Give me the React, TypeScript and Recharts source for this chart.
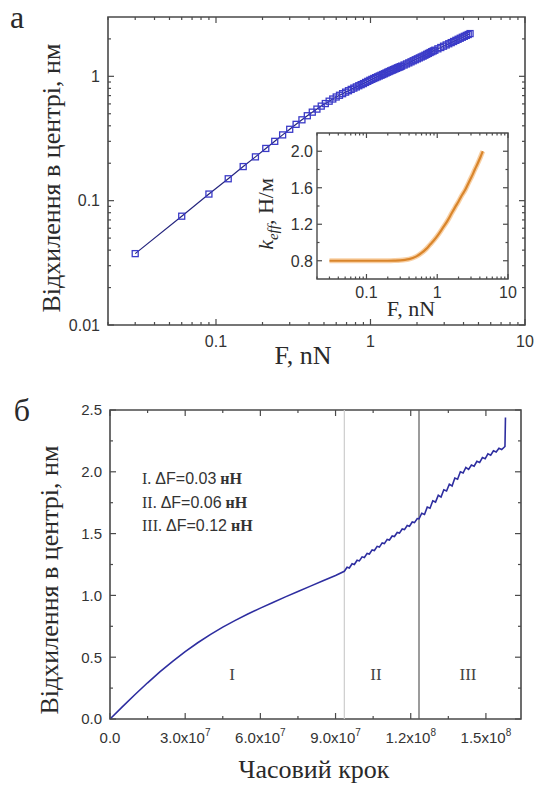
import React from 'react';
import { LineChart, Line, XAxis, YAxis, ReferenceArea, ReferenceLine } from 'recharts';

const SANS = '"Liberation Sans", Arial, sans-serif';
const SERIF = '"Liberation Serif", "Times New Roman", serif';
const AXIS = '#4a4a4a';
const LABEL = '#333333';

// ---------- Panel а: deflection vs force (log-log) ----------
const forceMain = [
  0.03, 0.06, 0.09, 0.12, 0.15, 0.18, 0.21, 0.24, 0.27, 0.30, 0.33, 0.36, 0.39, 0.42, 0.45, 0.48, 0.51, 0.54,
  0.57, 0.60, 0.63, 0.66, 0.69, 0.72, 0.75, 0.78, 0.81, 0.84, 0.87, 0.90, 0.93, 0.96, 0.99, 1.02, 1.05, 1.08,
  1.11, 1.14, 1.17, 1.20, 1.23, 1.26, 1.29, 1.32, 1.35, 1.38, 1.41, 1.44, 1.47, 1.50, 1.53, 1.56, 1.59,
  1.65, 1.71, 1.77, 1.83, 1.89, 1.95, 2.01, 2.07, 2.13, 2.19, 2.25, 2.31, 2.37, 2.43, 2.49, 2.55, 2.61,
  2.73, 2.85, 2.97, 3.09, 3.21, 3.33, 3.45, 3.57, 3.69, 3.81, 3.93, 4.05, 4.17, 4.29, 4.41,
];
const deflectionMain = [
  0.0375, 0.075, 0.113, 0.150, 0.188, 0.225, 0.263, 0.300, 0.338, 0.375, 0.411, 0.447, 0.482, 0.515, 0.545, 0.576, 0.604, 0.631,
  0.657, 0.682, 0.704, 0.725, 0.746, 0.766, 0.785, 0.804, 0.822, 0.840, 0.857, 0.874, 0.893, 0.911, 0.929, 0.945, 0.961, 0.976,
  0.991, 1.006, 1.020, 1.034, 1.049, 1.064, 1.079, 1.093, 1.107, 1.120, 1.133, 1.146, 1.159, 1.172, 1.184, 1.196, 1.208,
  1.233, 1.258, 1.283, 1.308, 1.334, 1.359, 1.383, 1.407, 1.431, 1.453, 1.478, 1.504, 1.529, 1.554, 1.578, 1.601, 1.622,
  1.664, 1.705, 1.747, 1.788, 1.828, 1.867, 1.906, 1.947, 1.986, 2.024, 2.062, 2.098, 2.134, 2.169, 2.207,
];
const forceMajorTicks = [0.1, 1, 10];
const forceMajorLabels = ['0.1', '1', '10'];
const forceMinorTicks = [0.02, 0.03, 0.04, 0.05, 0.06, 0.07, 0.08, 0.09, 0.2, 0.3, 0.4, 0.5, 0.6, 0.7, 0.8, 0.9, 2, 3, 4, 5, 6, 7, 8, 9];
const deflMajorTicks = [0.01, 0.1, 1];
const deflMajorLabels = ['0.01', '0.1', '1'];
const deflMinorTicks = [0.02, 0.03, 0.04, 0.05, 0.06, 0.07, 0.08, 0.09, 0.2, 0.3, 0.4, 0.5, 0.6, 0.7, 0.8, 0.9, 2];

// ---------- Inset: effective stiffness ----------
const forceInset = [0.03, 0.05, 0.08, 0.1, 0.15, 0.2, 0.25, 0.3, 0.35, 0.4, 0.5, 0.6, 0.7, 0.8, 0.9, 1.0, 1.2, 1.4, 1.6, 1.8, 2.0, 2.2, 2.5, 2.8, 3.1, 3.4, 3.7, 4.0, 4.3, 4.41];
const kEff = [0.80, 0.80, 0.80, 0.80, 0.80, 0.80, 0.802, 0.805, 0.81, 0.818, 0.845, 0.885, 0.93, 0.98, 1.025, 1.07, 1.16, 1.24, 1.32, 1.39, 1.45, 1.51, 1.58, 1.66, 1.73, 1.80, 1.86, 1.92, 1.98, 2.00];
const kMajorTicks = [0.8, 1.2, 1.6, 2.0];
const kMajorLabels = ['0.8', '1.2', '1.6', '2.0'];
const kMinorTicks = [1.0, 1.4, 1.8];

// ---------- Panel б: deflection vs time step ----------
const timeSteps = [
  0, 5e6, 10e6, 15e6, 20e6, 25e6, 30e6, 35e6, 40e6, 45e6, 50e6, 55e6, 60e6, 65e6, 70e6, 75e6, 80e6, 85e6, 90e6, 93.5e6,
  94.6e6, 95.5e6, 96.6e6, 97.5e6, 98.6e6, 99.5e6, 100.6e6, 101.5e6, 102.6e6, 103.5e6, 104.6e6, 105.5e6, 106.6e6,
  107.5e6, 108.6e6, 109.5e6, 110.6e6, 111.5e6, 112.6e6, 113.5e6, 114.6e6, 115.5e6, 116.6e6, 117.5e6, 118.6e6,
  119.5e6, 120.6e6, 121.5e6, 122.6e6, 123.3e6,
  124.4e6, 125.5e6, 126.6e6, 127.7e6, 128.8e6, 129.9e6, 131.0e6, 132.1e6, 133.2e6, 134.3e6, 135.4e6, 136.5e6,
  137.6e6, 138.7e6, 139.8e6, 140.9e6, 142.0e6, 143.1e6, 144.2e6, 145.3e6, 146.4e6, 147.5e6, 148.6e6,
  149.7e6, 150.8e6, 151.9e6, 153.0e6, 154.1e6, 155.2e6, 156.3e6, 157.6e6, 157.8e6,
];
const deflectionTime = [
  0, 0.10, 0.198, 0.293, 0.383, 0.467, 0.545, 0.617, 0.683, 0.743, 0.798, 0.849, 0.897, 0.943, 0.988, 1.032, 1.075, 1.118, 1.161, 1.195,
  1.228, 1.222, 1.256, 1.250, 1.284, 1.279, 1.312, 1.307, 1.340, 1.335, 1.368, 1.363, 1.397,
  1.391, 1.425, 1.419, 1.453, 1.448, 1.481, 1.476, 1.509, 1.504, 1.537, 1.532, 1.566,
  1.560, 1.594, 1.589, 1.622, 1.62,
  1.665, 1.655, 1.715, 1.705, 1.765, 1.755, 1.81, 1.795, 1.855, 1.845, 1.90, 1.885,
  1.95, 1.94, 2.0, 1.99, 2.035, 2.02, 2.055, 2.045, 2.085, 2.075, 2.115,
  2.105, 2.145, 2.135, 2.17, 2.16, 2.19, 2.18, 2.205, 2.44,
];
const regionBounds = [93.5e6, 123.3e6];
const timeMajorTicks = [0, 3e7, 6e7, 9e7, 1.2e8, 1.5e8];
const timeMajorMantissa = ['0.0', '3.0', '6.0', '9.0', '1.2', '1.5'];
const timeMajorExponent = ['', '7', '7', '7', '8', '8'];
const timeMinorTicks = [1.5e7, 4.5e7, 7.5e7, 1.05e8, 1.35e8];
const deflLinTicks = [0, 0.5, 1.0, 1.5, 2.0, 2.5];
const deflLinLabels = ['0.0', '0.5', '1.0', '1.5', '2.0', '2.5'];
const deflLinMinor = [0.25, 0.75, 1.25, 1.75, 2.25];
const stepLegend = [
  ['I.', 'ΔF=0.03'],
  ['II.', 'ΔF=0.06'],
  ['III.', 'ΔF=0.12'],
];
const regionNames = ['I', 'II', 'III'];

const mainData = forceMain.map((f, i) => ({ f, d: deflectionMain[i] }));
const insetData = forceInset.map((f, i) => ({ f, k: kEff[i] }));
const timeData = timeSteps.map((t, i) => ({ t, d: deflectionTime[i] }));

function makeXTick(cfg: any) {
  return (props: any) => {
    const { x, y, payload, index } = props;
    const v = payload.value;
    const mi = cfg.majors.indexOf(v);
    const major = mi >= 0;
    const len = major ? cfg.majorLen : cfg.minorLen;
    const topY = y - cfg.span;
    return (
      <g key={`xt-${index}`}>
        <line x1={x} x2={x} y1={y} y2={y - len} stroke={AXIS} strokeWidth={1.2} />
        <line x1={x} x2={x} y1={topY} y2={topY + len} stroke={AXIS} strokeWidth={1.2} />
        {major ? (
          <text x={x} y={y + cfg.gap} textAnchor="middle" fontSize={cfg.fontSize} fontFamily={SANS} fill={LABEL}>
            {cfg.label(mi)}
          </text>
        ) : null}
      </g>
    );
  };
}

function makeYTick(cfg: any) {
  return (props: any) => {
    const { x, y, payload, index } = props;
    const v = payload.value;
    const mi = cfg.majors.indexOf(v);
    const major = mi >= 0;
    const len = major ? cfg.majorLen : cfg.minorLen;
    const rx = x + cfg.span;
    return (
      <g key={`yt-${index}`}>
        <line x1={x} x2={x + len} y1={y} y2={y} stroke={AXIS} strokeWidth={1.2} />
        <line x1={rx} x2={rx - len} y1={y} y2={y} stroke={AXIS} strokeWidth={1.2} />
        {major ? (
          <text x={x - cfg.gap} y={y} dy={cfg.fontSize * 0.36} textAnchor="end" fontSize={cfg.fontSize} fontFamily={SANS} fill={LABEL}>
            {cfg.labels[mi]}
          </text>
        ) : null}
      </g>
    );
  };
}

const squareDot = (p: any) => (
  <rect key={`sq-${p.index}`} x={p.cx - 3} y={p.cy - 3} width={6} height={6} fill="none" stroke="#3b3bc8" strokeWidth={1.3} />
);

const centered = (left: number, top: number, extra: any = {}) => ({
  position: 'absolute' as const,
  left,
  top,
  transform: `translate(-50%, -50%)${extra.rotate ? ' rotate(-90deg)' : ''}`,
  whiteSpace: 'nowrap' as const,
  lineHeight: extra.lh || 1.15,
  color: '#2a2a2a',
  fontFamily: SERIF,
  fontSize: extra.size || 26,
});

export default function App() {
  const mainW = 536, mainH = 390;
  const mainM = { top: 17, right: 11, left: 48, bottom: 25 };
  const mainPlotW = 525 - 108;
  const mainPlotH = 325 - 17;

  const insetL = 250, insetT = 120, insetW = 286, insetH = 220;
  const insetM = { top: 13, right: 28, left: 17, bottom: 31 };
  const insetPlotW = 508 - 317;
  const insetPlotH = 279 - 133;

  const botT = 390, botW = 536, botH = 395;
  const botM = { top: 20, right: 15, left: 50, bottom: 26 };
  const botPlotW = 521 - 110;
  const botPlotH = 719 - 410;

  const mainXTick = makeXTick({ majors: forceMajorTicks, label: (i: number) => forceMajorLabels[i], span: mainPlotH, majorLen: 6, minorLen: 3, gap: 22, fontSize: 16 });
  const mainYTick = makeYTick({ majors: deflMajorTicks, labels: deflMajorLabels, span: mainPlotW, majorLen: 6, minorLen: 3, gap: 8, fontSize: 16 });
  const insetXTick = makeXTick({ majors: forceMajorTicks, label: (i: number) => forceMajorLabels[i], span: insetPlotH, majorLen: 5, minorLen: 2.5, gap: 19, fontSize: 16 });
  const insetYTick = makeYTick({ majors: kMajorTicks, labels: kMajorLabels, span: insetPlotW, majorLen: 5, minorLen: 2.5, gap: 4, fontSize: 16 });
  const botXTick = makeXTick({
    majors: timeMajorTicks,
    label: (i: number) =>
      timeMajorExponent[i] ? (
        <>
          {timeMajorMantissa[i]}x10
          <tspan dy={-7} fontSize={10}>{timeMajorExponent[i]}</tspan>
        </>
      ) : (
        timeMajorMantissa[i]
      ),
    span: botPlotH, majorLen: 6, minorLen: 3, gap: 24, fontSize: 15,
  });
  const botYTick = makeYTick({ majors: deflLinTicks, labels: deflLinLabels, span: botPlotW, majorLen: 6, minorLen: 3, gap: 8, fontSize: 15 });

  return (
    <div style={{ position: 'absolute', left: 0, top: 0, width: 536, height: 785, background: '#fff', overflow: 'hidden' }}>
      {/* Panel а */}
      <div style={{ position: 'absolute', left: 0, top: 0 }}>
        <LineChart width={mainW} height={mainH} data={mainData} margin={mainM}>
          <XAxis dataKey="f" type="number" scale="log" domain={[0.02, 10]} allowDataOverflow
            ticks={[...forceMinorTicks, ...forceMajorTicks]} interval={0} tick={mainXTick}
            tickLine={false} axisLine={false} tickSize={0} tickMargin={0} height={40} />
          <YAxis dataKey="d" type="number" scale="log" domain={[0.01, 3]} allowDataOverflow
            ticks={[...deflMinorTicks, ...deflMajorTicks]} interval={0} tick={mainYTick}
            tickLine={false} axisLine={false} tickSize={0} tickMargin={0} width={60} />
          <ReferenceArea x1={0.02} x2={10} y1={0.01} y2={3} fill="none" stroke={AXIS} strokeWidth={1.6} ifOverflow="visible" />
          <Line dataKey="d" stroke="#25257e" strokeWidth={1.2} dot={squareDot} isAnimationActive={false} />
        </LineChart>
      </div>

      {/* Inset */}
      <div style={{ position: 'absolute', left: insetL, top: insetT }}>
        <LineChart width={insetW} height={insetH} data={insetData} margin={insetM}>
          <XAxis dataKey="f" type="number" scale="log" domain={[0.02, 10]} allowDataOverflow
            ticks={[...forceMinorTicks, ...forceMajorTicks]} interval={0} tick={insetXTick}
            tickLine={false} axisLine={false} tickSize={0} tickMargin={0} height={30} />
          <YAxis dataKey="k" type="number" domain={[0.6, 2.2]} allowDataOverflow
            ticks={[...kMinorTicks, ...kMajorTicks]} interval={0} tick={insetYTick}
            tickLine={false} axisLine={false} tickSize={0} tickMargin={0} width={50} />
          <ReferenceArea x1={0.02} x2={10} y1={0.6} y2={2.2} fill="#ffffff" stroke={AXIS} strokeWidth={1.4} ifOverflow="visible" />
          <Line dataKey="k" type="monotone" stroke="#f6c48e" strokeWidth={5} strokeOpacity={0.8} dot={false} isAnimationActive={false} />
          <Line dataKey="k" type="monotone" stroke="#d9852b" strokeWidth={2.2} dot={false} isAnimationActive={false} />
        </LineChart>
      </div>

      {/* Panel б */}
      <div style={{ position: 'absolute', left: 0, top: botT }}>
        <LineChart width={botW} height={botH} data={timeData} margin={botM}>
          <XAxis dataKey="t" type="number" domain={[0, 1.64e8]} allowDataOverflow
            ticks={[...timeMinorTicks, ...timeMajorTicks]} interval={0} tick={botXTick}
            tickLine={false} axisLine={false} tickSize={0} tickMargin={0} height={40} />
          <YAxis dataKey="d" type="number" domain={[0, 2.5]} allowDataOverflow
            ticks={[...deflLinMinor, ...deflLinTicks]} interval={0} tick={botYTick}
            tickLine={false} axisLine={false} tickSize={0} tickMargin={0} width={60} />
          <ReferenceArea x1={0} x2={1.64e8} y1={0} y2={2.5} fill="none" stroke={AXIS} strokeWidth={1.6} ifOverflow="visible" />
          <ReferenceLine x={regionBounds[0]} stroke="#cccccc" strokeWidth={1.2} />
          <ReferenceLine x={regionBounds[1]} stroke="#5a5a5a" strokeWidth={1.2} />
          <Line dataKey="d" stroke="#2e2ea0" strokeWidth={1.6} dot={false} isAnimationActive={false} />
        </LineChart>
      </div>

      {/* Texts */}
      <div style={centered(17, 17, { size: 32, lh: 0.9 })}>а</div>
      <div style={centered(52, 178, { rotate: true })}>Відхилення в центрі, нм</div>
      <div style={centered(303, 356)}>F, nN</div>
      <div style={centered(266, 214, { rotate: true, size: 22 })}>
        <span style={{ fontStyle: 'italic' }}>k</span>
        <span style={{ fontStyle: 'italic', fontSize: 15, position: 'relative', top: 5 }}>eff</span>, Н/м
      </div>
      <div style={centered(411, 309, { size: 22 })}>F, nN</div>

      <div style={centered(22, 410, { size: 32 })}>б</div>
      <div style={centered(50, 580, { rotate: true })}>Відхилення в центрі, нм</div>
      <div style={centered(314, 770)}>Часовий крок</div>

      {stepLegend.map((row, i) => (
        <div key={i} style={{ position: 'absolute', left: 142, top: 470 + i * 23.5, whiteSpace: 'nowrap', fontSize: 16, lineHeight: '18px', color: '#333' }}>
          <span style={{ fontFamily: SERIF }}>{row[0]} </span>
          <span style={{ fontFamily: SANS }}>{row[1]}</span>
          <span style={{ fontFamily: SERIF, fontWeight: 'bold' }}> нН</span>
        </div>
      ))}
      {regionNames.map((r, i) => (
        <div key={r} style={{ ...centered([232, 376, 468][i], 675, { size: 17 }), color: '#444' }}>{r}</div>
      ))}
    </div>
  );
}
